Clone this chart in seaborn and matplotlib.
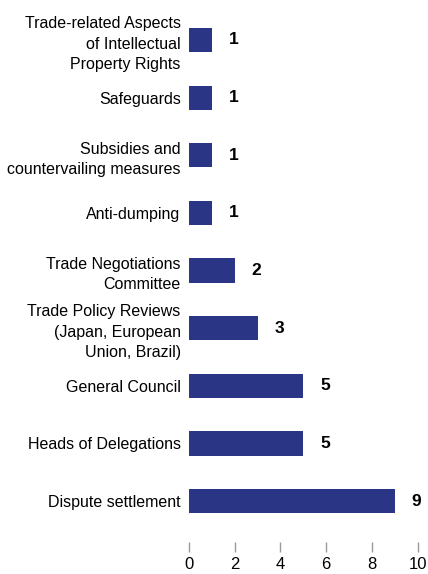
import matplotlib
matplotlib.use("Agg")
import matplotlib.pyplot as plt
import seaborn as sns
import pandas as pd

bodies = [
    "Trade-related Aspects\nof Intellectual\nProperty Rights",
    "Safeguards",
    "Subsidies and\ncountervailing measures",
    "Anti-dumping",
    "Trade Negotiations\nCommittee",
    "Trade Policy Reviews\n(Japan, European\nUnion, Brazil)",
    "General Council",
    "Heads of Delegations",
    "Dispute settlement",
]
meetings = [1, 1, 1, 1, 2, 3, 5, 5, 9]
x_ticks = [0, 2, 4, 6, 8, 10]

df = pd.DataFrame({"body": bodies, "meetings": meetings})

sns.set_style("white")
plt.rcParams["font.family"] = ["Liberation Sans", "DejaVu Sans"]

fig = plt.figure(figsize=(4.28, 5.74), dpi=100)
ax = fig.add_axes([189 / 428, 32 / 574, (417.7 - 189) / 428, 532 / 574])

sns.barplot(data=df, x="meetings", y="body", orient="h", color="#2a3586",
            saturation=1, width=0.42, linewidth=0, ax=ax)

ax.set_xlim(0, 10)
ax.set_ylim(8.71, -0.52)
ax.set_xticks(x_ticks)
ax.set_xticklabels([str(t) for t in x_ticks], fontsize=12)
ax.tick_params(axis="x", direction="out", length=7, width=1, color="#9a9a9a",
               pad=3.5, bottom=True, labelcolor="black")
ax.tick_params(axis="y", length=0, pad=6, labelsize=11.5, labelcolor="black")
for lbl in ax.get_yticklabels():
    lbl.set_linespacing(1.45)
    lbl.set_multialignment("right")
ax.set_xlabel("")
ax.set_ylabel("")
for s in ax.spines.values():
    s.set_visible(False)

for container in ax.containers:
    ax.bar_label(container, labels=[str(v) for v in meetings], padding=12,
                 fontsize=12.5, fontweight="bold", color="black")

fig.savefig("out.png", dpi=100)
